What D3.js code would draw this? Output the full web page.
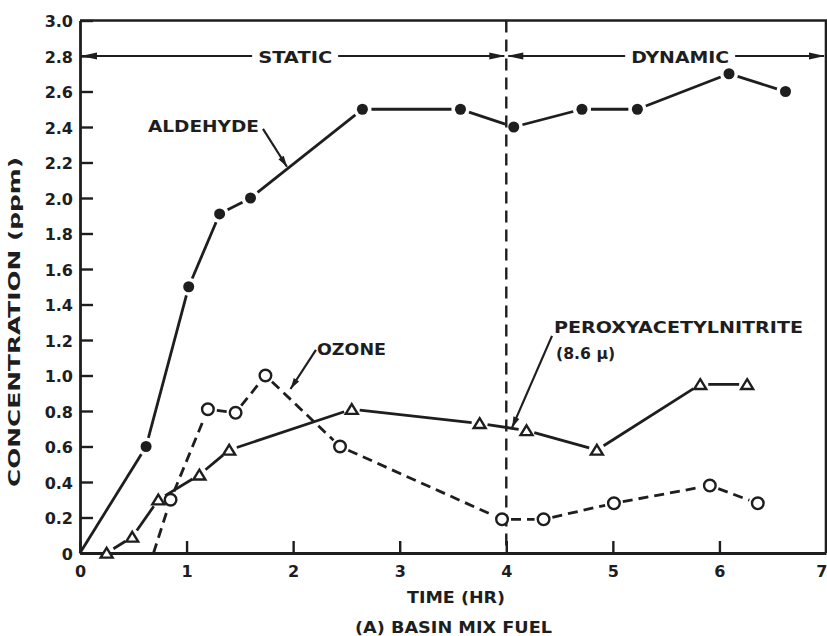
<!DOCTYPE html>
<html>
<head>
<meta charset="utf-8">
<script src="https://cdn.jsdelivr.net/npm/d3@7"></script>
<style>
  body { margin: 0; background: #fff; }
  text { font-family: "DejaVu Sans", "Liberation Sans", sans-serif; font-weight: bold; fill: #1e1e1e; }
</style>
</head>
<body>
<script>
// Axis ticks
const timeTicks = [0, 1, 2, 3, 4, 5, 6, 7];
const timeTickLabels = ["0", "1", "2", "3", "4", "5", "6", "7"];
const concTicks = [0, 0.2, 0.4, 0.6, 0.8, 1.0, 1.2, 1.4, 1.6, 1.8, 2.0, 2.2, 2.4, 2.6, 2.8, 3.0];
const concTickLabels = ["0", "0.2", "0.4", "0.6", "0.8", "1.0", "1.2", "1.4", "1.6", "1.8", "2.0", "2.2", "2.4", "2.6", "2.8", "3.0"];

// Aldehyde (filled circles, solid); first point is the unmarked origin
const aldehydeTime = [0, 0.62, 1.02, 1.31, 1.60, 2.65, 3.57, 4.07, 4.71, 5.23, 6.09, 6.62];
const aldehydeConc = [0, 0.60, 1.50, 1.91, 2.00, 2.50, 2.50, 2.40, 2.50, 2.50, 2.70, 2.60];

// Ozone (open circles, dashed); first point is the unmarked start on the axis
const ozoneTime = [0.69, 0.85, 1.20, 1.46, 1.74, 2.44, 3.96, 4.35, 5.01, 5.91, 6.36];
const ozoneConc = [0, 0.30, 0.81, 0.79, 1.00, 0.60, 0.19, 0.19, 0.28, 0.38, 0.28];

// Peroxyacetylnitrite (open triangles, solid)
const panTime = [0.25, 0.49, 0.735, 1.12, 1.40, 2.55, 3.75, 4.19, 4.85, 5.82, 6.26];
const panConc = [0, 0.09, 0.30, 0.44, 0.58, 0.81, 0.73, 0.69, 0.58, 0.95, 0.95];

// Static / dynamic phases
const phaseNames = ["STATIC", "DYNAMIC"];
const phaseStart = [0, 4];
const phaseEnd = [4, 7];
const phaseLevel = 2.8;

const W = 827, H = 636;
const ink = "#1e1e1e";

const svg = d3.select("body").append("svg")
  .attr("width", W).attr("height", H)
  .style("display", "block");
svg.append("rect").attr("width", W).attr("height", H).attr("fill", "#fff");

const x = d3.scaleLinear().domain([0, 7]).range([80, 826]);
const y = d3.scaleLinear().domain([0, 3]).range([553, 20.5]);

// Frame (top and right edges)
svg.append("path")
  .attr("d", `M${x(0)},${y(3)}H${x(7)}V${y(0)}`)
  .attr("fill", "none").attr("stroke", ink).attr("stroke-width", 2.6);

// Axes
const yAxis = d3.axisLeft(y)
  .tickValues(concTicks)
  .tickFormat((d, i) => concTickLabels[i])
  .tickSizeInner(-13).tickSizeOuter(0).tickPadding(7);
const gy = svg.append("g").attr("transform", `translate(${x(0)},0)`).call(yAxis);

const xAxis = d3.axisBottom(x)
  .tickValues(timeTicks)
  .tickFormat((d, i) => timeTickLabels[i])
  .tickSizeInner(-12).tickSizeOuter(0).tickPadding(13);
const gx = svg.append("g").attr("transform", `translate(0,${y(0)})`).call(xAxis);

[gx, gy].forEach(g => {
  g.select(".domain").attr("stroke", ink).attr("stroke-width", 2.8);
  g.selectAll(".tick line").attr("stroke", ink).attr("stroke-width", 2.4);
  g.selectAll(".tick text").attr("font-size", 16).attr("fill", ink);
});
gy.selectAll(".tick text").attr("dy", "0.38em");
// last time label sits against the page edge
gx.selectAll(".tick text").filter(d => d === 7).attr("text-anchor", "end").attr("dx", 1);

// Phase boundary
svg.append("line")
  .attr("x1", x(phaseStart[1])).attr("x2", x(phaseStart[1]))
  .attr("y1", y(3)).attr("y2", y(0))
  .attr("stroke", ink).attr("stroke-width", 2.4)
  .attr("stroke-dasharray", "12,7");

// Helpers
function arrowHead(x1, y1, x2, y2, len, half) {
  const a = Math.atan2(y2 - y1, x2 - x1);
  const bx = x2 - len * Math.cos(a), by = y2 - len * Math.sin(a);
  const px = -Math.sin(a) * half, py = Math.cos(a) * half;
  svg.append("path")
    .attr("d", `M${x2},${y2}L${bx + px},${by + py}L${bx - px},${by - py}Z`)
    .attr("fill", ink);
}
function label(txt, left, base, len, size) {
  return svg.append("text")
    .attr("x", left).attr("y", base)
    .attr("font-size", size || 16)
    .attr("textLength", len).attr("lengthAdjust", "spacingAndGlyphs")
    .text(txt);
}

// Phase arrows with labels
const phaseLabelWidth = [74, 98];
phaseNames.forEach((name, i) => {
  const x0 = x(phaseStart[i]), x1 = x(phaseEnd[i]);
  const yy = y(phaseLevel);
  const cx = (x0 + x1) / 2 + (i === 0 ? 2 : 14);
  const w = phaseLabelWidth[i];
  label(name, cx - w / 2, yy + 6.5, w);
  svg.append("line").attr("x1", x0 + 2).attr("x2", cx - w / 2 - 6)
    .attr("y1", yy).attr("y2", yy).attr("stroke", ink).attr("stroke-width", 2);
  svg.append("line").attr("x1", cx + w / 2 + 6).attr("x2", x1 - 2)
    .attr("y1", yy).attr("y2", yy).attr("stroke", ink).attr("stroke-width", 2);
  arrowHead(x0 + 20, yy, x0 + 1, yy, 16, 3.6);
  arrowHead(x1 - 20, yy, x1 - 1, yy, 16, 3.6);
});

// Series line segments, shortened near each marker
function series(times, concs, firstMarked, gap, dash) {
  const pts = times.map((t, i) => [x(t), y(concs[i])]);
  const g = svg.append("g");
  for (let i = 0; i < pts.length - 1; i++) {
    const [ax, ay] = pts[i], [bx, by] = pts[i + 1];
    const dx = bx - ax, dy = by - ay, L = Math.hypot(dx, dy);
    const g0 = i >= firstMarked ? gap : 0;
    const g1 = gap;
    if (L <= g0 + g1) continue;
    g.append("line")
      .attr("x1", ax + dx * g0 / L).attr("y1", ay + dy * g0 / L)
      .attr("x2", bx - dx * g1 / L).attr("y2", by - dy * g1 / L)
      .attr("stroke", ink).attr("stroke-width", 2.8)
      .attr("stroke-dasharray", dash || null);
  }
  return pts.slice(firstMarked);
}

const aldPts = series(aldehydeTime, aldehydeConc, 1, 9);
const ozPts = series(ozoneTime, ozoneConc, 1, 9, "10,6");
const panPts = series(panTime, panConc, 0, 8);

svg.append("g").selectAll("circle").data(aldPts).join("circle")
  .attr("cx", d => d[0]).attr("cy", d => d[1]).attr("r", 5.5).attr("fill", ink);

svg.append("g").selectAll("circle").data(ozPts).join("circle")
  .attr("cx", d => d[0]).attr("cy", d => d[1]).attr("r", 5.8)
  .attr("fill", "#fff").attr("stroke", ink).attr("stroke-width", 2.4);

svg.append("g").selectAll("path").data(panPts).join("path")
  .attr("d", d => `M${d[0]},${d[1] - 5.2}L${d[0] + 6},${d[1] + 4.6}L${d[0] - 6},${d[1] + 4.6}Z`)
  .attr("fill", "#fff").attr("stroke", ink).attr("stroke-width", 2.4)
  .attr("stroke-linejoin", "miter");

// Series labels with leader arrows
function leader(t1, c1, t2, c2) {
  svg.append("line")
    .attr("x1", x(t1)).attr("y1", y(c1)).attr("x2", x(t2)).attr("y2", y(c2))
    .attr("stroke", ink).attr("stroke-width", 2.2);
  arrowHead(x(t1), y(c1), x(t2), y(c2), 11, 3.2);
}

label("ALDEHYDE", x(0.638), y(2.372), 111);
leader(1.717, 2.389, 1.942, 2.176);

label("OZONE", x(2.224), y(1.115), 69);
leader(2.214, 1.144, 1.975, 0.924);

label("PEROXYACETYLNITRITE", x(4.448), y(1.239), 249);
label("(8.6 \u00B5)", x(4.467), y(1.093), 59);
leader(4.429, 1.223, 4.054, 0.706);

// Axis titles
label("TIME (HR)", 407, 603, 98);
label("(A) BASIN MIX FUEL", 355, 633, 197);

svg.append("text")
  .attr("transform", "translate(20,487) rotate(-90)")
  .attr("font-size", 16)
  .attr("textLength", 330).attr("lengthAdjust", "spacingAndGlyphs")
  .text("CONCENTRATION (ppm)");
</script>
</body>
</html>
